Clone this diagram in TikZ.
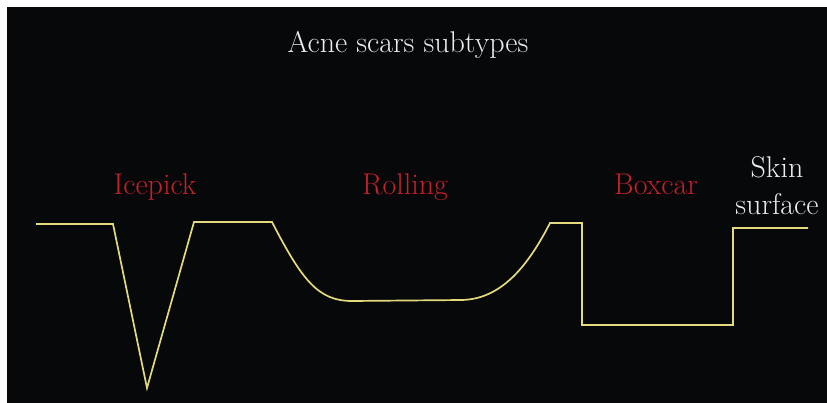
\documentclass[tikz,border=0pt]{standalone}
\usepackage{xcolor}
\usepackage{tikz}

\definecolor{skinline}{RGB}{228,218,125}
\definecolor{scarred}{RGB}{196,32,42}
\definecolor{titlegrey}{RGB}{236,236,236}
\definecolor{bgblack}{RGB}{6,8,10}

\tikzset{
    label/.style={font=\fontsize{30}{37}\selectfont, anchor=base, inner sep=0pt},
    skin/.style={draw=skinline, line width=1.7pt, line join=miter}
}

\begin{document}
\begin{tikzpicture}[x=1pt, y=-1pt]
    \useasboundingbox (0,0) rectangle (827,403);
    \fill[white] (0,0) rectangle (827,403);
    \fill[bgblack] (7,7) rectangle (827,403);

    % --- Title ---
    \node[label, text=titlegrey] (title) at (408,53) {Acne scars subtypes};

    % --- Scar types ---
    \node[label, text=scarred] (icepick) at (155,195) {Icepick};
    \node[label, text=scarred] (rolling) at (405,195) {Rolling};
    \node[label, text=scarred] (boxcar) at (656,195) {Boxcar};
    \node[label, text=titlegrey, align=center] (surface) at (777,215) {Skin\\surface};

    % --- Skin profile ---
    \draw[skin] (36,224) -- (113,224) -- (147,388) -- (194,222) -- (272,222)
        .. controls (302,280) and (318,301) .. (352,301)
        -- (462,300)
        .. controls (498,299) and (525,272) .. (550,223)
        -- (582,223) -- (582,325) -- (733,325) -- (733,228) -- (808,228);
\end{tikzpicture}
\end{document}
